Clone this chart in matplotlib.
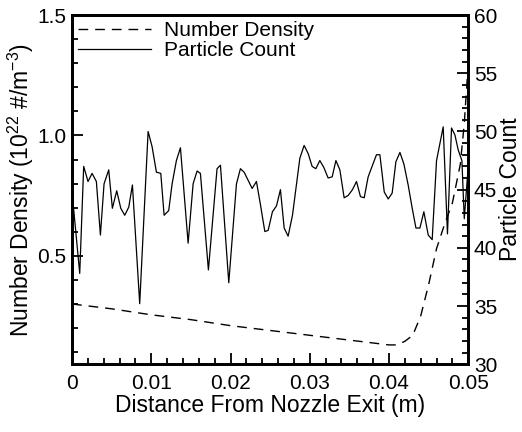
import matplotlib
matplotlib.use("Agg")
from matplotlib import pyplot as plt
from matplotlib.ticker import MultipleLocator, FixedLocator, FixedFormatter

plt.rcParams['font.family'] = ['Liberation Sans', 'DejaVu Sans']
plt.rcParams['mathtext.fontset'] = 'custom'
plt.rcParams['mathtext.rm'] = 'Liberation Sans'

# number density along the axis (10^22 #/m^3)
dens_x = [0.0, 0.005, 0.01, 0.015, 0.02, 0.025, 0.03, 0.035, 0.04, 0.041,
          0.042, 0.043, 0.044, 0.045, 0.046, 0.047, 0.048, 0.049, 0.0495, 0.05]
dens_y = [0.30, 0.28, 0.255, 0.235, 0.21, 0.19, 0.17, 0.15, 0.13, 0.13,
          0.145, 0.17, 0.25, 0.38, 0.53, 0.63, 0.72, 0.88, 1.05, 1.30]

# particle count per cell
count_x = [0.0, 0.00097, 0.00147, 0.00202, 0.00253, 0.00307, 0.00358, 0.00404,
           0.00463, 0.00509, 0.00564, 0.00615, 0.00665, 0.00716, 0.00762, 0.00854,
           0.0096, 0.0101, 0.01065, 0.0112, 0.01162, 0.0122, 0.01263, 0.01317,
           0.01368, 0.01465, 0.01528, 0.01578, 0.0162, 0.01721, 0.0183, 0.01873,
           0.01978, 0.02075, 0.02125, 0.02172, 0.02273, 0.02327, 0.02378, 0.02433,
           0.02475, 0.02529, 0.0258, 0.0263, 0.02677, 0.02727, 0.02782, 0.02875,
           0.02929, 0.0298, 0.0303, 0.03077, 0.03127, 0.03178, 0.03232, 0.03283,
           0.0333, 0.0338, 0.03434, 0.03485, 0.03539, 0.0359, 0.0364, 0.03687,
           0.03737, 0.03792, 0.03842, 0.03885, 0.0394, 0.0399, 0.0404, 0.04087,
           0.04138, 0.04188, 0.04242, 0.04293, 0.0434, 0.0439, 0.0444, 0.04495,
           0.04545, 0.046, 0.04684, 0.04738, 0.04789, 0.04832, 0.04874, 0.0492,
           0.0495, 0.05]
count_y = [44.8, 37.8, 47.0, 45.7, 46.4, 45.7, 41.1, 45.5,
           46.7, 43.4, 44.9, 43.4, 42.8, 43.5, 45.4, 35.2,
           50.0, 48.7, 46.5, 46.4, 42.8, 43.2, 45.5, 47.5,
           48.6, 40.4, 45.5, 46.6, 46.4, 38.1, 46.8, 47.1,
           37.0, 45.5, 46.8, 46.5, 45.1, 45.7, 43.7, 41.4,
           41.5, 43.1, 43.6, 45.0, 41.7, 41.0, 42.8, 47.7,
           48.8, 48.1, 47.0, 46.8, 47.5, 46.9, 46.0, 46.1,
           47.5, 46.7, 44.3, 44.5, 45.0, 45.7, 44.4, 44.3,
           46.1, 47.1, 48.0, 48.0, 44.8, 44.2, 44.7, 47.4,
           48.2, 47.2, 45.4, 43.4, 41.7, 41.7, 43.1, 41.1,
           40.7, 47.5, 50.4, 41.2, 50.3, 49.7, 48.4, 47.5,
           42.5, 47.0]

fig = plt.figure(figsize=(5.22, 4.32), dpi=100)
ax = fig.add_axes([0.138, 0.157, 0.759, 0.808])
ax2 = ax.twinx()

l1, = ax.plot(dens_x, dens_y, color='k', lw=1, ls=(0, (7, 5)), label='Number Density')
l2, = ax2.plot(count_x, count_y, color='k', lw=0.9, label='Particle Count')

ax.set_xlim(0, 0.05)
ax.set_ylim(0.05, 1.5)
ax2.set_ylim(30, 60)

ax.xaxis.set_major_locator(FixedLocator([0, 0.01, 0.02, 0.03, 0.04, 0.05]))
ax.xaxis.set_major_formatter(FixedFormatter(['0', '0.01', '0.02', '0.03', '0.04', '0.05']))
ax.xaxis.set_minor_locator(MultipleLocator(0.002))
ax.yaxis.set_major_locator(FixedLocator([0.5, 1.0, 1.5]))
ax.yaxis.set_major_formatter(FixedFormatter(['0.5', '1.0', '1.5']))
ax.yaxis.set_minor_locator(MultipleLocator(0.1))
ax2.yaxis.set_major_locator(MultipleLocator(5))
ax2.yaxis.set_minor_locator(MultipleLocator(1))

for a in (ax, ax2):
    a.tick_params(which='both', direction='in', labelsize=15, width=1.3)
    a.tick_params(which='major', length=8, pad=4)
    a.tick_params(which='minor', length=4)
    for s in a.spines.values():
        s.set_linewidth(2)
ax.tick_params(axis='x', pad=7)

ax.set_xlabel('Distance From Nozzle Exit (m)', fontsize=16.5, labelpad=1)
ax.set_ylabel('Number Density (10$^{22}$ #/m$^{-3}$)', fontsize=16.5, labelpad=1)
ax2.set_ylabel('Particle Count', fontsize=16.5, labelpad=1)

ax.legend(handles=[l1, l2], loc='upper left', frameon=False, fontsize=15,
          handlelength=3.5, handletextpad=0.6, borderaxespad=0.1,
          labelspacing=0.05, borderpad=0.2)

fig.savefig('out.png', dpi=100)
